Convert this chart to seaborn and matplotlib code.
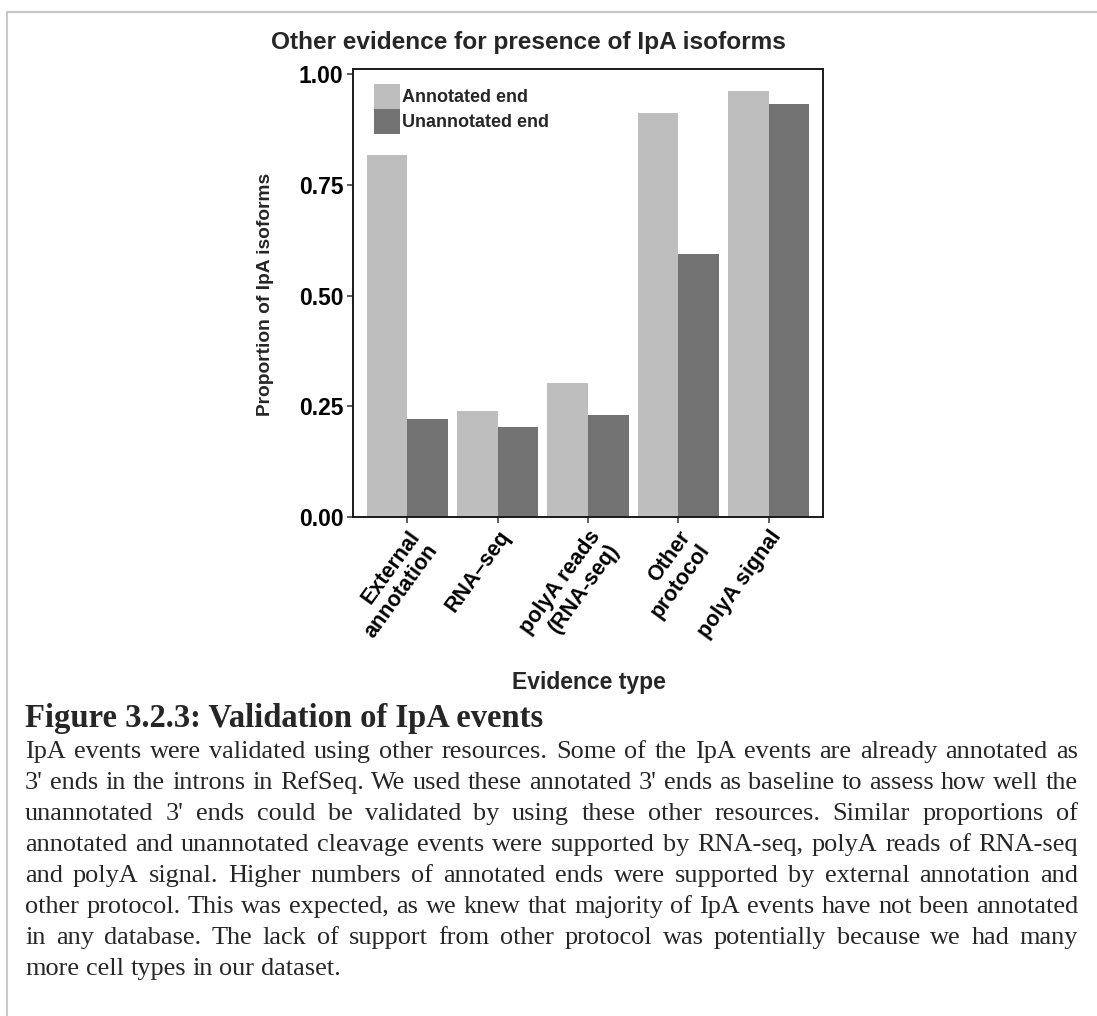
import matplotlib
matplotlib.use("Agg")
import matplotlib.pyplot as plt
import seaborn as sns
import pandas as pd
from matplotlib.patches import Patch
from matplotlib.lines import Line2D
from matplotlib.font_manager import FontProperties

# ---------------- data ----------------
categories = ["External\nannotation", "RNA\u2013seq", "polyA reads\n(RNA-seq)", "Other\nprotocol", "polyA signal"]
annotated = [0.818, 0.239, 0.302, 0.913, 0.963]
unannotated = [0.221, 0.203, 0.230, 0.593, 0.933]
groups = ["Annotated end", "Unannotated end"]
yticks = [0.00, 0.25, 0.50, 0.75, 1.00]
title = "Other evidence for presence of IpA isoforms"
xlabel = "Evidence type"
ylabel = "Proportion of IpA isoforms"
caption_title = "Figure 3.2.3: Validation of IpA events"
caption_lines = [
    "IpA events were validated using other resources. Some of the IpA events are already annotated as",
    "3' ends in the introns in RefSeq. We used these annotated 3' ends as baseline to assess how well the",
    "unannotated 3' ends could be validated by using these other resources. Similar proportions of",
    "annotated and unannotated cleavage events were supported by RNA-seq, polyA reads of RNA-seq",
    "and polyA signal. Higher numbers of annotated ends were supported by external annotation and",
    "other protocol. This was expected, as we knew that majority of IpA events have not been annotated",
    "in any database. The lack of support from other protocol was potentially because we had many",
    "more cell types in our dataset.",
]

df = pd.DataFrame({
    "Evidence": categories * 2,
    "Proportion": annotated + unannotated,
    "Group": [groups[0]] * len(categories) + [groups[1]] * len(categories),
})
colors = ["#bebebe", "#737373"]

# ---------------- figure ----------------
sns.set_theme(style="white")
plt.rcParams["font.family"] = ["Liberation Sans", "DejaVu Sans"]

W, H = 1097, 1016
fig = plt.figure(figsize=(W / 100, H / 100), dpi=100)
fig.patch.set_facecolor("white")

L, R, T, B = 353, 823, 69, 517
ax = fig.add_axes([L / W, 1 - B / H, (R - L) / W, (B - T) / H])

sns.barplot(data=df, x="Evidence", y="Proportion", hue="Group", order=categories,
            hue_order=groups, palette=colors, width=0.9, saturation=1,
            edgecolor="none", linewidth=0, ax=ax, legend=False)

ax.set_xlim(-0.6, len(categories) - 0.4)
ax.set_ylim(0, 1.0117)
ax.set_xlabel("")
ax.set_ylabel("")
ax.set_yticks(yticks)
ax.set_yticklabels([f"{v:.2f}" for v in yticks], fontsize=16.5, fontweight="bold", color="black")
ax.set_xticks(range(len(categories)))
ax.set_xticklabels(categories, rotation=54, ha="right", va="top", rotation_mode="anchor",
                   fontsize=15.5, fontweight="bold", color="black", multialignment="right",
                   linespacing=1.1)
ax.tick_params(axis="both", direction="out", length=4, width=1.1, color="#333333",
               bottom=True, left=True, pad=3)
for s in ax.spines.values():
    s.set_visible(True)
    s.set_color("#1a1a1a")
    s.set_linewidth(1.4)

handles = [Patch(facecolor=c, edgecolor="none") for c in colors]
leg = ax.legend(handles, groups, loc="upper left", bbox_to_anchor=(21 / (R - L), 1 - 15 / (B - T)),
                frameon=False, borderpad=0, borderaxespad=0, handlelength=1.45, handleheight=1.75,
                labelspacing=0.0, handletextpad=0.12, prop={"weight": "bold", "size": 13})

fig.text(528 / W, 1 - 43 / H, title, ha="center", va="center", fontsize=17.6, fontweight="bold")
fig.text(589 / W, 1 - 683 / H, xlabel, ha="center", va="center", fontsize=16.5, fontweight="bold")
fig.text(265 / W, 1 - 294 / H, ylabel, ha="center", va="center", rotation=90, fontsize=13.8,
         fontweight="bold")

# border lines of the page frame
fig.add_artist(Line2D([6.5 / W, 1], [1 - 11.5 / H, 1 - 11.5 / H], transform=fig.transFigure,
                      color="#c8c8c8", lw=1.5))
fig.add_artist(Line2D([6.5 / W, 6.5 / W], [0, 1 - 11.5 / H], transform=fig.transFigure,
                      color="#c8c8c8", lw=1.5))

# ---------------- caption (justified) ----------------
fig.canvas.draw()
renderer = fig.canvas.get_renderer()
serif = ["Liberation Serif", "DejaVu Serif"]
x0, x1 = 25, 1078


def width_of(s, fp):
    w, h, d = renderer.get_text_width_height_descent(s, fp, ismath=False)
    return w


fp_t = FontProperties(family=serif, weight="bold", size=17)
tw = width_of(caption_title, fp_t)
fp_t = FontProperties(family=serif, weight="bold", size=17 * 519 / tw)
fig.text(x0 / W, 1 - 718 / H, caption_title, ha="left", va="center", fontproperties=fp_t)

fp_b = FontProperties(family=serif, size=15)
sp0 = width_of("a a", fp_b) - width_of("aa", fp_b)
nat = []
for line in caption_lines[:-1]:
    words = line.split(" ")
    nat.append(sum(width_of(w, fp_b) for w in words) + (len(words) - 1) * sp0)
scale = (x1 - x0) * 0.995 / max(nat)
fp_b = FontProperties(family=serif, size=15 * scale)
space_w = width_of("a a", fp_b) - width_of("aa", fp_b)

y_first, dy = 752, 31.0
for i, line in enumerate(caption_lines):
    y = y_first + i * dy
    words = line.split(" ")
    ws = [width_of(w, fp_b) for w in words]
    if i < len(caption_lines) - 1 and len(words) > 1:
        gap = (x1 - x0 - sum(ws)) / (len(words) - 1)
    else:
        gap = space_w
    x = x0
    for w, wd in zip(words, ws):
        fig.text(x / W, 1 - y / H, w, ha="left", va="center", fontproperties=fp_b)
        x += wd + gap

fig.savefig("out.png", dpi=100, facecolor="white")
